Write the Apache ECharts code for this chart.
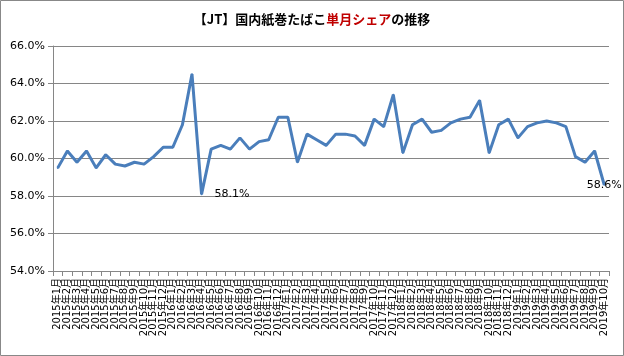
<!DOCTYPE html>
<html><head><meta charset="utf-8">
<script src="https://cdn.jsdelivr.net/npm/echarts@6/dist/echarts.min.js"></script>
<style>html,body{margin:0;padding:0;background:#fff}#c{width:624px;height:356px}</style>
</head><body><div id="c"></div>
<script>
const years = [2015, 2016, 2017, 2018, 2019];
const categories = [];
for (const y of years) { for (let m = 1; m <= 12; m++) { if (y === 2019 && m > 10) break; categories.push(y + '年' + m + '月'); } }
const share = [59.5,60.4,59.8,60.4,59.5,60.2,59.7,59.6,59.8,59.7,60.1,60.6,60.6,61.8,64.5,58.1,
  60.5,60.7,60.5,61.1,60.5,60.9,61.0,62.2,62.2,59.8,61.3,61.0,60.7,61.3,61.3,61.2,60.7,62.1,61.7,63.4,
  60.3,61.8,62.1,61.4,61.5,61.9,62.1,62.2,63.1,60.3,61.8,62.1,61.1,61.7,61.9,62.0,61.9,61.7,60.1,59.8,60.4,58.6];
const yTicks = {min: 54, max: 66, step: 2};
const labeled = {15: {position: 'right', distance: 12, offset: [0, 2]}, 57: {position: 'inside', offset: [-4, 1]}};

const chart = echarts.init(document.getElementById('c'));
chart.setOption({
  animation: false,
  graphic: [{type: 'rect', shape: {x: 0.5, y: 0.5, width: 623, height: 355}, style: {fill: 'none', stroke: '#888', lineWidth: 1}}],
  title: {
    text: '{b|【JT】国内紙巻たばこ}{r|単月シェア}{b|の推移}',
    left: 'center', top: 8,
    textStyle: {rich: {
      b: {fontFamily: 'Noto Sans CJK JP', fontWeight: 'bold', fontSize: 13, color: '#000'},
      r: {fontFamily: 'Noto Sans CJK JP', fontWeight: 'bold', fontSize: 13, color: '#C00000'}
    }}
  },
  grid: {left: 53, right: 15, top: 46, bottom: 85},
  xAxis: {
    type: 'category', data: categories, boundaryGap: true,
    axisLine: {lineStyle: {color: '#868686'}},
    axisTick: {show: true, length: 5, interval: 0, lineStyle: {color: '#868686'}},
    axisLabel: {rotate: 90, interval: 0, fontSize: 10, color: '#000', margin: 7,
      fontFamily: 'DejaVu Sans, Noto Sans CJK JP'}
  },
  yAxis: {
    type: 'value', min: yTicks.min, max: yTicks.max, interval: yTicks.step,
    axisLine: {show: true, lineStyle: {color: '#868686'}},
    axisTick: {show: true, length: 5, lineStyle: {color: '#868686'}},
    splitLine: {lineStyle: {color: '#868686'}},
    axisLabel: {formatter: v => v.toFixed(1) + '%', fontSize: 11, color: '#000', margin: 8, fontFamily: 'DejaVu Sans'}
  },
  series: [{
    type: 'line',
    data: share.map((v, i) => labeled[i] ? {value: v, label: Object.assign({show: true}, labeled[i])} : v),
    showSymbol: true, showAllSymbol: true, symbol: 'circle', symbolSize: 2,
    lineStyle: {color: '#4A7EBB', width: 3},
    itemStyle: {color: '#4A7EBB'},
    label: {show: false, formatter: p => p.value.toFixed(1) + '%', fontSize: 11, color: '#000', fontFamily: 'DejaVu Sans'},
    labelLayout: {hideOverlap: false}
  }]
});
</script></body></html>
